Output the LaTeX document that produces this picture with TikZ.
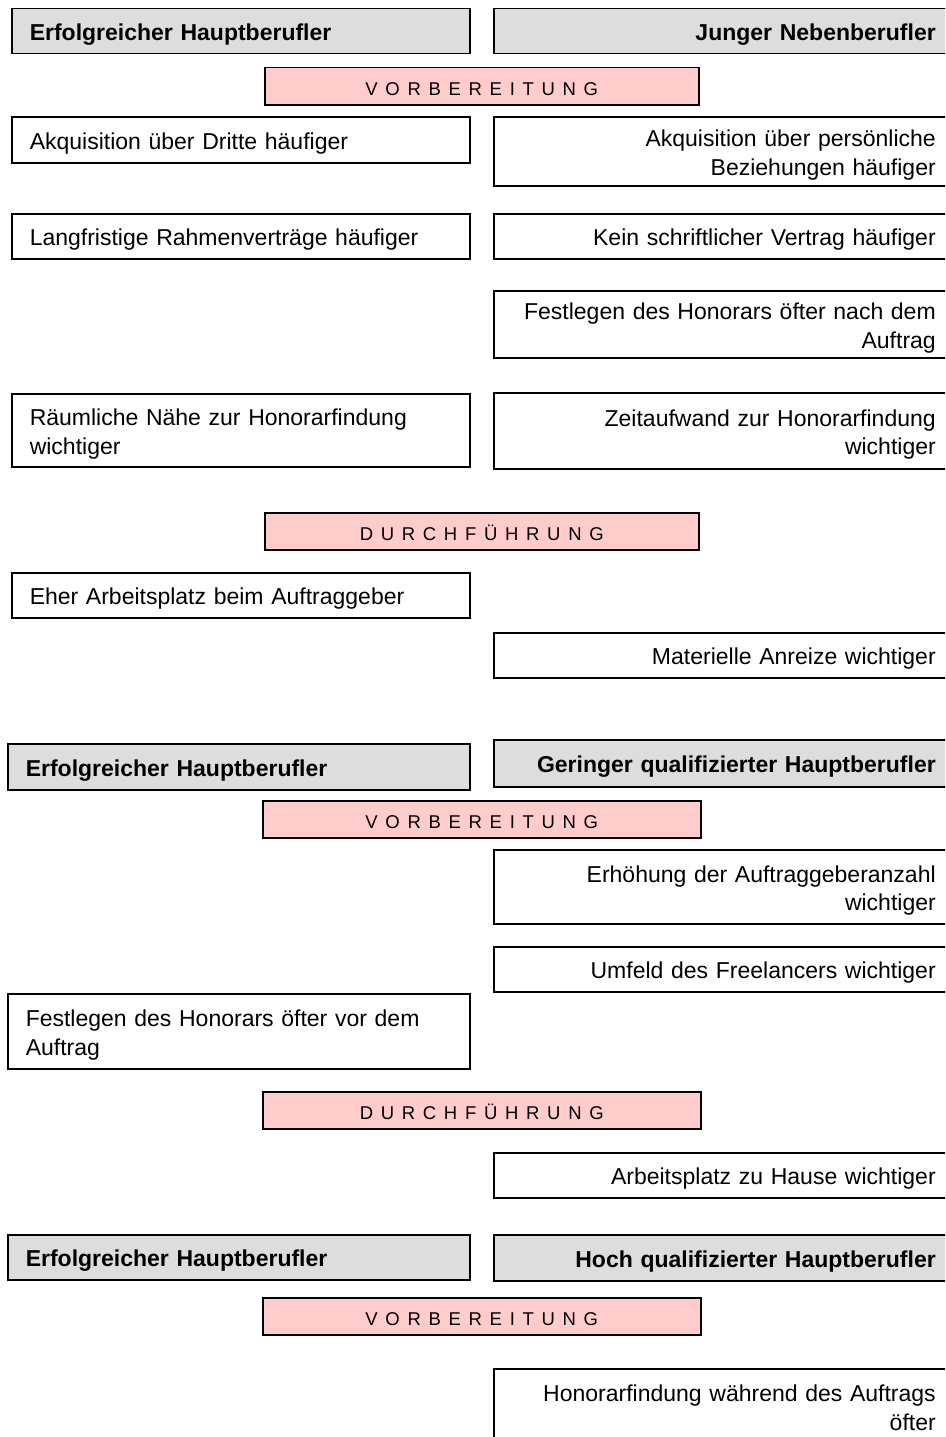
\documentclass[tikz,border=0pt]{standalone}
\usepackage{fontspec}
\setmainfont{Liberation Sans}
\definecolor{hdrgray}{RGB}{221,221,221}
\definecolor{phasepink}{RGB}{255,204,204}
\newcommand{\ls}{\kern7.7pt}
\begin{document}
\begin{tikzpicture}[x=1pt,y=-1pt,
  box/.style={draw=black, line width=1.5pt, fill=white, inner ysep=0pt,
    font=\fontsize{23}{28.5}\selectfont, text=black,
    execute at begin node={\rule{0pt}{25pt}},
    execute at end node={\rule[-6pt]{0pt}{0pt}}},
  lbox/.style={box, anchor=north west, align=left, inner xsep=18pt, text width=422pt},
  lboxw/.style={box, anchor=north west, align=left, inner xsep=18pt, text width=426pt},
  rbox/.style={box, anchor=north west, align=right, inner xsep=20pt, text width=422pt},
  hdr/.style={fill=hdrgray, font=\fontsize{23}{28.5}\selectfont\bfseries},
  phase/.style={draw=black, line width=1.5pt, fill=phasepink, anchor=north west,
    inner sep=0pt, font=\fontsize{18.5}{22}\selectfont, text=black,
    execute at begin node={\rule{0pt}{18.8pt}}},
]
\useasboundingbox (0,0) rectangle (945,1437);
\fill[white] (0,0) rectangle (945,1437);
\clip (0,0) rectangle (945,1437);

% ---- block 1
\node[lbox,hdr,minimum height=45pt] (h1l) at (11,8) {Erfolgreicher Hauptberufler};
\node[rbox,hdr,minimum height=45pt] (h1r) at (493,8) {Junger Nebenberufler};
\node[phase,minimum width=434pt,minimum height=37pt] (v1) at (264,67)
  {V\ls O\ls R\ls B\ls E\ls R\ls E\ls I\ls T\ls U\ls N\ls G};
\node[lbox,minimum height=46pt] (a1l) at (11,116) {Akquisition über Dritte häufiger};
\node[rbox,minimum height=69pt] (a1r) at (493,116) {Akquisition über persönliche\\Beziehungen häufiger};
\node[lbox,minimum height=45pt] (l1l) at (11,213) {Langfristige Rahmenverträge häufiger};
\node[rbox,minimum height=45pt] (l1r) at (493,213) {Kein schriftlicher Vertrag häufiger};
\node[rbox,minimum height=67pt] (f1r) at (493,290) {Festlegen des Honorars öfter nach dem\\Auftrag};
\node[lbox,minimum height=73pt] (r1l) at (11,393) {Räumliche Nähe zur Honorarfindung\\wichtiger};
\node[rbox,minimum height=76pt] (r1r) at (493,392) {Zeitaufwand zur Honorarfindung\\wichtiger};
\node[phase,minimum width=434pt,minimum height=37pt] (d1) at (264,512)
  {D\ls U\ls R\ls C\ls H\ls F\ls Ü\ls H\ls R\ls U\ls N\ls G};
\node[lbox,minimum height=45pt] (e1l) at (11,572) {Eher Arbeitsplatz beim Auftraggeber};
\node[rbox,minimum height=45pt] (m1r) at (493,632) {Materielle Anreize wichtiger};

% ---- block 2
\node[lboxw,hdr,minimum height=46pt] (h2l) at (7,743) {Erfolgreicher Hauptberufler};
\node[rbox,hdr,minimum height=47pt] (h2r) at (493,739) {Geringer qualifizierter Hauptberufler};
\node[phase,minimum width=438pt,minimum height=37pt] (v2) at (262,800)
  {V\ls O\ls R\ls B\ls E\ls R\ls E\ls I\ls T\ls U\ls N\ls G};
\node[rbox,minimum height=74pt] (e2r) at (493,849) {Erhöhung der Auftraggeberanzahl\\wichtiger};
\node[rbox,minimum height=45pt] (u2r) at (493,946) {Umfeld des Freelancers wichtiger};
\node[lboxw,minimum height=75pt] (f2l) at (7,993) {Festlegen des Honorars öfter vor dem\\Auftrag};
\node[phase,minimum width=438pt,minimum height=37pt] (d2) at (262,1091)
  {D\ls U\ls R\ls C\ls H\ls F\ls Ü\ls H\ls R\ls U\ls N\ls G};
\node[rbox,minimum height=45pt] (az2r) at (493,1152) {Arbeitsplatz zu Hause wichtiger};

% ---- block 3
\node[lboxw,hdr,minimum height=45pt] (h3l) at (7,1234) {Erfolgreicher Hauptberufler};
\node[rbox,hdr,minimum height=46pt] (h3r) at (493,1234) {Hoch qualifizierter Hauptberufler};
\node[phase,minimum width=438pt,minimum height=37pt] (v3) at (262,1297)
  {V\ls O\ls R\ls B\ls E\ls R\ls E\ls I\ls T\ls U\ls N\ls G};
\node[rbox,minimum height=75pt] (hon3r) at (493,1368) {Honorarfindung während des Auftrags\\öfter};
\end{tikzpicture}
\end{document}
